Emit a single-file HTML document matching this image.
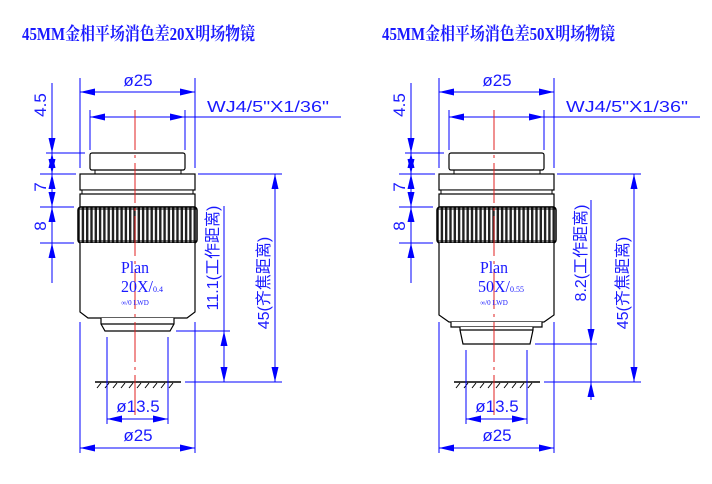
<!DOCTYPE html>
<html><head><meta charset="utf-8"><style>
html,body{margin:0;padding:0;background:#fff;width:712px;height:484px;overflow:hidden}
svg{display:block}
.t{font-family:"Liberation Sans","Noto Sans CJK SC",sans-serif;fill:#1a1aff}
.s{font-family:"Liberation Serif","Noto Serif CJK SC",serif;fill:#1a1aff}
</style></head><body>
<svg width="712" height="484" viewBox="0 0 712 484" xmlns="http://www.w3.org/2000/svg">
<defs>
<polygon id="ad" points="0,0 -3.5,-15 3.5,-15" fill="#0000ff"/>
<pattern id="kn" width="4.3" height="40" patternUnits="userSpaceOnUse">
<rect width="4.3" height="40" fill="#fff"/><rect x="0" width="2.4" height="40" fill="#222"/></pattern>
<g id="obj">
 <rect x="90" y="153" width="95" height="17" rx="2" fill="#fff" stroke="#000" stroke-width="1.2"/>
 <line x1="95" y1="170" x2="95" y2="174" stroke="#000"/><line x1="181" y1="170" x2="181" y2="174" stroke="#000"/>
 <rect x="80" y="174" width="115" height="16" fill="#fff" stroke="#000" stroke-width="1.2"/>
 <rect x="82" y="190" width="111" height="4" fill="#fff" stroke="#000" stroke-width="1"/>
 <rect x="80" y="194" width="115" height="13" fill="#fff" stroke="#000" stroke-width="1.2"/>
 <rect x="78" y="207" width="119" height="36" rx="3" fill="url(#kn)" stroke="#000" stroke-width="1.5"/>
 <line x1="78" y1="209" x2="197" y2="209" stroke="#000"/><line x1="78" y1="241" x2="197" y2="241" stroke="#000"/>
</g>
<g id="hatch" stroke="#000" stroke-width="1">
 <line x1="95" y1="382" x2="181" y2="382" stroke-width="1.6"/>
 <line x1="97" y1="388" x2="101" y2="383"/><line x1="105" y1="388" x2="109" y2="383"/><line x1="113" y1="388" x2="117" y2="383"/><line x1="121" y1="388" x2="125" y2="383"/><line x1="129" y1="388" x2="133" y2="383"/><line x1="137" y1="388" x2="141" y2="383"/><line x1="145" y1="388" x2="149" y2="383"/><line x1="153" y1="388" x2="157" y2="383"/><line x1="161" y1="388" x2="165" y2="383"/><line x1="169" y1="388" x2="173" y2="383"/>
</g>
<g id="common">
 <g stroke="#0000ff" stroke-width="1" fill="none">
  <line x1="80" y1="78" x2="80" y2="168"/><line x1="195" y1="78" x2="195" y2="168"/>
  <line x1="80" y1="92" x2="195" y2="92"/>
  <line x1="90" y1="110" x2="90" y2="150"/><line x1="185" y1="110" x2="185" y2="150"/>
  <line x1="90" y1="117" x2="341" y2="117"/>
  <line x1="52" y1="83" x2="52" y2="283"/>
  <line x1="46" y1="153" x2="85" y2="153"/><line x1="40" y1="174" x2="76" y2="174"/>
  <line x1="40" y1="207" x2="74" y2="207"/><line x1="40" y1="243" x2="74" y2="243"/>
  <line x1="198" y1="174" x2="282" y2="174"/>
  <line x1="185" y1="382" x2="282" y2="382"/>
  <line x1="80" y1="322" x2="80" y2="453"/><line x1="195" y1="322" x2="195" y2="453"/>
  <line x1="80" y1="448" x2="195" y2="448"/>
  <line x1="275" y1="174" x2="275" y2="382"/>
 </g>
 <use href="#ad" transform="translate(80,92) rotate(90)"/><use href="#ad" transform="translate(195,92) rotate(-90)"/>
 <use href="#ad" transform="translate(90,117) rotate(90)"/><use href="#ad" transform="translate(185,117) rotate(-90)"/>
 <use href="#ad" transform="translate(80,448) rotate(90)"/><use href="#ad" transform="translate(195,448) rotate(-90)"/>
 <use href="#ad" transform="translate(52,153)"/><use href="#ad" transform="translate(52,153) rotate(180)"/>
 <use href="#ad" transform="translate(52,174)"/><use href="#ad" transform="translate(52,174) rotate(180)"/>
 <use href="#ad" transform="translate(52,207)"/><use href="#ad" transform="translate(52,207) rotate(180)"/>
 <use href="#ad" transform="translate(52,243) rotate(180)"/>
 <use href="#ad" transform="translate(275,174) rotate(180)"/><use href="#ad" transform="translate(275,382)"/>
 <text class="t" x="138" y="86" font-size="17" text-anchor="middle">ø25</text>
 <text class="t" x="207" y="112" font-size="16" textLength="122" lengthAdjust="spacingAndGlyphs">WJ4/5"X1/36"</text>
 <text class="t" x="138" y="441" font-size="17" text-anchor="middle">ø25</text>
 <text class="t" x="138" y="412" font-size="17" text-anchor="middle">ø13.5</text>
 <text class="t" font-size="17" transform="translate(46,105) rotate(-90)" text-anchor="middle">4.5</text>
 <text class="t" font-size="17" transform="translate(46,187) rotate(-90)" text-anchor="middle">7</text>
 <text class="t" font-size="17" transform="translate(46,226) rotate(-90)" text-anchor="middle">8</text>
 <text class="t" font-size="16" transform="translate(269,283) rotate(-90)" text-anchor="middle">45(齐焦距离)</text>
 <use href="#obj"/><use href="#hatch"/>
</g>
</defs>

<rect width="712" height="484" fill="#fff"/>
<text class="s" x="22" y="40" font-size="18" font-weight="bold" textLength="233" lengthAdjust="spacingAndGlyphs">45MM金相平场消色差20X明场物镜</text>
<text class="s" x="382" y="40" font-size="18" font-weight="bold" textLength="233" lengthAdjust="spacingAndGlyphs">45MM金相平场消色差50X明场物镜</text>

<!-- LEFT -->
<use href="#common"/>
<g stroke="#000" stroke-width="1.2" fill="#fff">
 <path d="M80,243 L80,312 L88,318 L187,318 L195,312 L195,243"/>
 <path d="M101,318 L101,324 L105,331 L170,331 L174,324 L174,318"/>
 <line x1="101" y1="324" x2="174" y2="324"/>
</g>
<line x1="135" y1="110" x2="135" y2="420" stroke="#e02020" stroke-width="1" stroke-dasharray="40,5,3,5"/>
<text class="s" x="135" y="273" font-size="17" text-anchor="middle" textLength="28" lengthAdjust="spacingAndGlyphs">Plan</text>
<text class="s" x="121" y="292" font-size="17" textLength="32" lengthAdjust="spacingAndGlyphs">20X/</text><text class="s" x="153" y="292" font-size="8">0.4</text>
<text class="s" x="135" y="305" font-size="7" text-anchor="middle">∞/0 LWD</text>
<g stroke="#0000ff" stroke-width="1" fill="none">
 <line x1="107" y1="337" x2="107" y2="424"/><line x1="168" y1="337" x2="168" y2="424"/>
 <line x1="107" y1="419" x2="168" y2="419"/>
 <line x1="224" y1="206" x2="224" y2="382"/>
 <line x1="176" y1="331" x2="230" y2="331"/>
</g>
<use href="#ad" transform="translate(107,419) rotate(90)"/><use href="#ad" transform="translate(168,419) rotate(-90)"/>
<use href="#ad" transform="translate(224,331) rotate(180)"/><use href="#ad" transform="translate(224,382)"/>
<text class="t" font-size="16" transform="translate(218,258) rotate(-90)" text-anchor="middle">11.1(工作距离)</text>

<!-- RIGHT -->
<g transform="translate(359,0)">
 <use href="#common"/>
 <g stroke="#000" stroke-width="1.2" fill="#fff">
  <path d="M80,243 L80,315 L90,322 L185,322 L195,315 L195,243"/>
  <path d="M92,322 L92,327 L183,327 L183,322"/>
  <path d="M101,327 L101,330 L104,344 L171,344 L174,330 L174,327"/>
  <line x1="101" y1="330" x2="174" y2="330"/>
 </g>
 <line x1="135" y1="110" x2="135" y2="420" stroke="#e02020" stroke-width="1" stroke-dasharray="40,5,3,5"/>
 <text class="s" x="135" y="273" font-size="17" text-anchor="middle" textLength="28" lengthAdjust="spacingAndGlyphs">Plan</text>
 <text class="s" x="119" y="292" font-size="17" textLength="32" lengthAdjust="spacingAndGlyphs">50X/</text><text class="s" x="151" y="292" font-size="8">0.55</text>
 <text class="s" x="135" y="305" font-size="7" text-anchor="middle">∞/0 LWD</text>
 <g stroke="#0000ff" stroke-width="1" fill="none">
  <line x1="107" y1="350" x2="107" y2="424"/><line x1="168" y1="350" x2="168" y2="424"/>
  <line x1="107" y1="419" x2="168" y2="419"/>
  <line x1="232" y1="200" x2="232" y2="400"/>
  <line x1="176" y1="344" x2="238" y2="344"/>
 </g>
 <use href="#ad" transform="translate(107,419) rotate(90)"/><use href="#ad" transform="translate(168,419) rotate(-90)"/>
 <use href="#ad" transform="translate(232,344)"/><use href="#ad" transform="translate(232,382) rotate(180)"/>
 <text class="t" font-size="16" transform="translate(227,253) rotate(-90)" text-anchor="middle">8.2(工作距离)</text>
</g>
</svg>
</body></html>
